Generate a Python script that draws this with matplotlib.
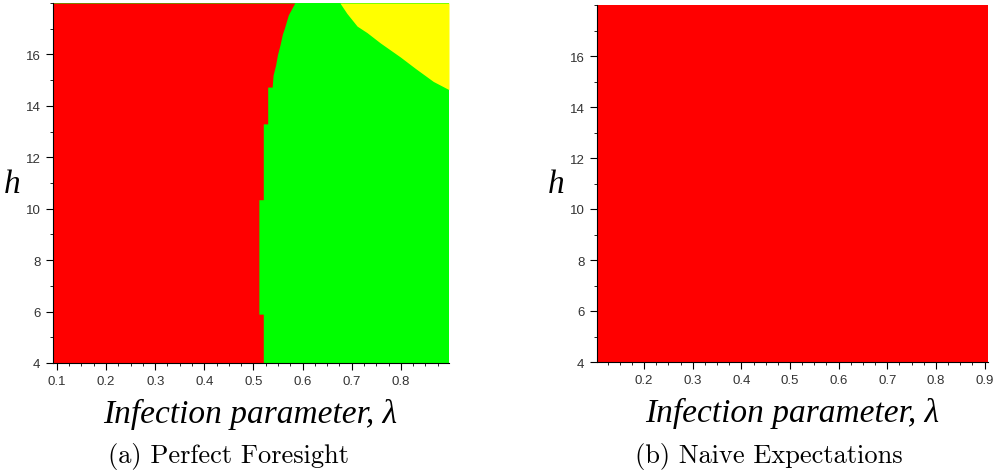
import numpy as np
import matplotlib
matplotlib.use('Agg')
import matplotlib.pyplot as plt
from matplotlib.ticker import MultipleLocator

# region data
# red / green border in panel (a): h level and lambda at that level
border_h   = [4.0, 5.9, 5.9, 10.35, 10.35, 13.3, 13.3, 14.73, 14.73, 15.2, 15.58, 16.0, 16.37, 16.8, 17.02, 17.54, 18.0]
border_lam = [0.520, 0.520, 0.511, 0.511, 0.520, 0.520, 0.529, 0.529, 0.538, 0.540, 0.545, 0.549, 0.554, 0.559, 0.563, 0.571, 0.584]
# green / yellow border in panel (a): lambda and h at that lambda
yellow_lam = [0.676, 0.690, 0.711, 0.731, 0.758, 0.799, 0.830, 0.866, 0.898]
yellow_h   = [18.0, 17.6, 17.1, 16.85, 16.45, 15.9, 15.45, 14.95, 14.63]

xlim_a = (0.092, 0.898)
xlim_b = (0.1032, 0.9071)
h_range = (4.0, 18.0)
xticks_a = [0.1, 0.2, 0.3, 0.4, 0.5, 0.6, 0.7, 0.8]
xticks_b = [0.2, 0.3, 0.4, 0.5, 0.6, 0.7, 0.8, 0.9]
yticks = [4, 6, 8, 10, 12, 14, 16]

RED = '#ff0000'
GREEN = '#00ff00'
YELLOW = '#ffff00'

W, H = 997, 477
fig = plt.figure(figsize=(W/100, H/100), dpi=100)

def px(x0, y0, x1, y1):
    return [x0/W, 1-y1/H, (x1-x0)/W, (y1-y0)/H]

ax1 = fig.add_axes(px(53, 4, 449, 364))
ax2 = fig.add_axes(px(597, 6, 988, 363))

# panel (a)
ax1.fill_between(list(xlim_a), h_range[0], h_range[1], color=GREEN, lw=0)
ax1.fill_betweenx(border_h, xlim_a[0], border_lam, color=RED, lw=0)
ax1.fill_between(yellow_lam, yellow_h, h_range[1], color=YELLOW, lw=0)
ax1.set_xlim(*xlim_a)

# panel (b): all red
ax2.fill_between(list(xlim_b), h_range[0], h_range[1], color=RED, lw=0)
ax2.set_xlim(*xlim_b)

for ax, xt in ((ax1, xticks_a), (ax2, xticks_b)):
    ax.set_ylim(*h_range)
    ax.set_xticks(xt)
    ax.set_xticklabels(['%.1f' % v for v in xt])
    ax.set_yticks(yticks)
    ax.set_yticklabels([str(v) for v in yticks])
    ax.xaxis.set_minor_locator(MultipleLocator(0.025))
    ax.yaxis.set_minor_locator(MultipleLocator(1))
    for s in ('top', 'right'):
        ax.spines[s].set_visible(False)
    ax.spines['left'].set_linewidth(0.8)
    ax.spines['bottom'].set_linewidth(0.8)
    ax.tick_params(which='major', length=5, width=0.8, labelsize=9.5, labelcolor='#333333',
                   direction='out', pad=4)
    ax.tick_params(which='minor', length=2.5, width=0.6, direction='out')
    for lab in ax.get_xticklabels() + ax.get_yticklabels():
        lab.set_family('Liberation Sans')

lab_font = dict(family='Liberation Serif', style='italic', size=24)
fig.text(12/W, 1-185/H, 'h', ha='center', va='center', **lab_font)
fig.text(556/W, 1-185/H, 'h', ha='center', va='center', **lab_font)
fig.text(250/W, 1-414/H, 'Infection parameter, λ', ha='center', va='center', **lab_font)
fig.text(792/W, 1-413/H, 'Infection parameter, λ', ha='center', va='center', **lab_font)

cap_font = dict(family='cmr10', size=19)
fig.text(228/W, 1-457/H, '(a) Perfect Foresight', ha='center', va='center', **cap_font)
fig.text(769/W, 1-457/H, '(b) Naive Expectations', ha='center', va='center', **cap_font)

fig.savefig('out.png', dpi=100)
